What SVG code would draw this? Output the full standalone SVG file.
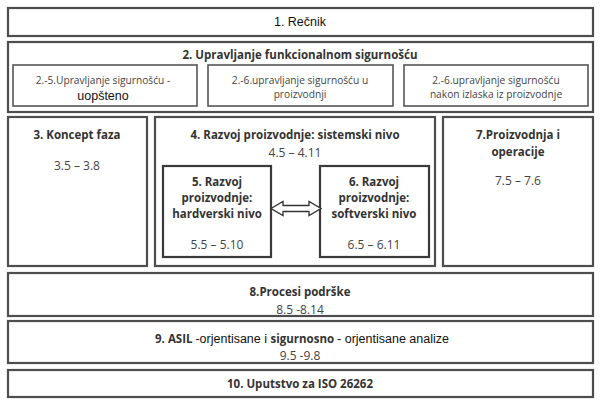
<svg xmlns="http://www.w3.org/2000/svg" width="600" height="405" viewBox="0 0 600 405">
<style>
.b{fill:#fff;stroke:#4d4d4d;stroke-width:2.2}
.s{fill:#fff;stroke:#555;stroke-width:1.6}
.i{fill:#fff;stroke:#3a3a3a;stroke-width:2.2}
text{font-family:"Open Sans","Liberation Sans",sans-serif;fill:#333;text-anchor:middle}
.t{font-weight:bold;font-size:11.5px}
.n{font-size:12px;fill:#444}
.m{font-size:10.2px;fill:#444}
.a{font-family:"Liberation Sans",Arial,sans-serif;fill:#111}
</style>
<rect width="600" height="405" fill="#fff"/>
<g id="n1"><rect class="b" x="8" y="8" width="585" height="28"/><text class="a" x="300" y="26" font-size="12.5">1. Rečnik</text></g>
<g id="n2"><rect class="b" x="8" y="42" width="585" height="70"/><text class="t" x="300" y="59" font-size="12">2. Upravljanje funkcionalnom sigurnošću</text>
<g id="n2a"><rect class="s" x="13" y="65" width="184" height="41"/><text class="m" x="103" y="84">2.-5.Upravljanje sigurnošću -</text><text class="a" x="103" y="100" font-size="12.5">uopšteno</text></g>
<g id="n2b"><rect class="s" x="208" y="65" width="185" height="41"/><text class="m" x="300" y="84">2.-6.upravljanje sigurnošću u</text><text class="m" x="300" y="98">proizvodnji</text></g>
<g id="n2c"><rect class="s" x="404" y="65" width="184" height="41"/><text class="m" x="496" y="84">2.-6.upravljanje sigurnošću</text><text class="m" x="496" y="98">nakon izlaska iz  proizvodnje</text></g>
</g>
<g id="n3"><rect class="b" x="8" y="117" width="139" height="149"/><text class="t" x="77" y="139">3. Koncept faza</text><text class="n" x="77" y="170">3.5 – 3.8</text></g>
<g id="n4"><rect class="b" x="155" y="117" width="280" height="149"/><text class="t" x="295" y="139">4. Razvoj proizvodnje: sistemski nivo</text><text class="n" x="295" y="157">4.5 – 4.11</text></g>
<g id="n5"><rect class="i" x="163" y="166" width="108" height="91"/><text class="t" x="217" y="186">5. Razvoj</text><text class="t" x="217" y="202">proizvodnje:</text><text class="t" x="217" y="218">hardverski nivo</text><text class="n" x="217" y="249">5.5 – 5.10</text></g>
<g id="n6"><rect class="i" x="320" y="166" width="109" height="91"/><text class="t" x="374" y="186">6. Razvoj</text><text class="t" x="374" y="202">proizvodnje:</text><text class="t" x="374" y="218">softverski nivo</text><text class="n" x="374" y="249">6.5 – 6.11</text></g>
<g id="n7"><rect class="b" x="443" y="117" width="150" height="149"/><text class="t" x="518" y="139">7.Proizvodnja i</text><text class="t" x="518" y="156">operacije</text><text class="n" x="518" y="185">7.5 – 7.6</text></g>
<g id="n8"><rect class="b" x="8" y="273" width="585" height="43"/><text class="t" x="300" y="296">8.Procesi podrške</text><text class="n" x="300" y="314">8.5 -8.14</text></g>
<g id="n9"><rect class="b" x="8" y="321" width="585" height="42"/><text x="302" y="343" font-size="11.5"><tspan font-weight="bold">9. ASIL </tspan><tspan class="a" font-size="12.5">-orjentisane i </tspan><tspan font-weight="bold">sigurnosno </tspan><tspan class="a" font-size="12.5">- orjentisane  analize</tspan></text><text class="n" x="300" y="360">9.5 -9.8</text></g>
<g id="n10"><rect class="b" x="8" y="370" width="585" height="27"/><text class="t" x="300" y="388">10. Uputstvo za ISO 26262</text></g>
<g id="connectors"><path d="M271 208.5 L283 201.5 L283 205.5 L309 205.5 L309 201.5 L321 208.5 L309 215.5 L309 211.5 L283 211.5 L283 215.5 Z" fill="#fff" stroke="#333" stroke-width="1.3"/></g>
</svg>
